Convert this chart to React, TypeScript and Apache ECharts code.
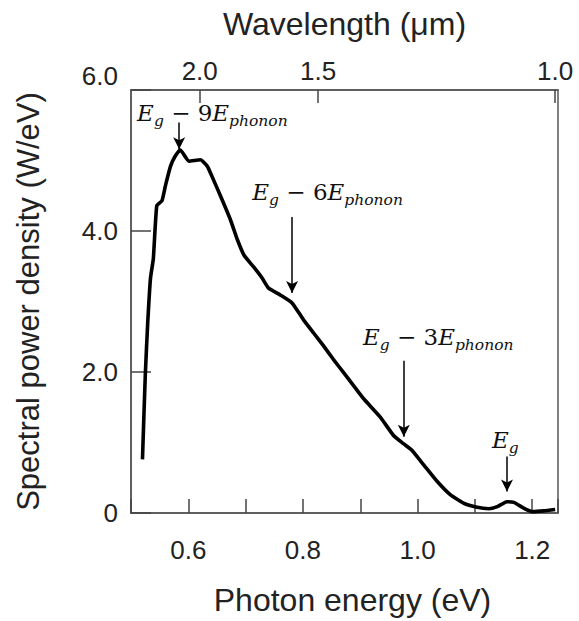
import React, { useEffect, useRef } from "react";
import * as echarts from "echarts";

// Photon energy (eV) and spectral power density (W/eV)
const energy = [
  0.52, 0.525, 0.529, 0.534, 0.539, 0.545, 0.554, 0.56, 0.569, 0.577, 0.586,
  0.601, 0.621, 0.633, 0.641, 0.656, 0.673, 0.685, 0.697, 0.714, 0.729, 0.74,
  0.761, 0.781, 0.801, 0.819, 0.836, 0.853, 0.871, 0.889, 0.906, 0.935, 0.958,
  0.976, 0.99, 1.011, 1.034, 1.057, 1.08, 1.104, 1.124, 1.139, 1.156, 1.168,
  1.185, 1.2, 1.22, 1.24,
];
const power = [
  0.76, 1.97, 2.67, 3.33, 3.61, 4.36, 4.43, 4.64, 4.92, 5.06, 5.15, 4.99, 5.01,
  4.92, 4.78, 4.5, 4.17, 3.89, 3.66, 3.49, 3.33, 3.19, 3.09, 2.98, 2.74, 2.55,
  2.37, 2.18, 1.99, 1.8, 1.62, 1.36, 1.1, 0.98, 0.89, 0.68, 0.45, 0.26, 0.14,
  0.08, 0.06, 0.09, 0.16, 0.15, 0.07, 0.02, 0.03, 0.05,
];

// Top axis: wavelength tick labels (µm), converted with E = hc / λ
const wavelengthTicks = [2.0, 1.5, 1.0];
const HC = 1.2398;

// Annotations (phonon replicas)
const annotationMultiples = ["9", "6", "3", ""];
const arrowX = [0.584, 0.781, 0.976, 1.156];
const arrowFrom = [5.54, 4.2, 2.16, 0.8];
const arrowTo = [5.16, 3.12, 1.08, 0.305];
const labelX = [0.642, 0.843, 1.036, 1.153];
const labelY = [5.68, 4.55, 2.49, 1.03];

const SANS = "'Liberation Sans', Arial, sans-serif";
const MATH = "'DejaVu Serif', 'Liberation Serif', serif";

export default function App() {
  const ref = useRef<HTMLDivElement>(null);

  useEffect(() => {
    if (!ref.current) return;
    const chart = echarts.init(ref.current, undefined, { renderer: "svg" });

    const xMin = 0.5;
    const xMax = 1.245;
    const topVals = wavelengthTicks.map((w) => HC / w);

    const rich = {
      e: { fontFamily: MATH, fontStyle: "italic", fontSize: 23, color: "#111", lineHeight: 32 },
      s: { fontFamily: MATH, fontStyle: "italic", fontSize: 15.5, color: "#111", lineHeight: 18, verticalAlign: "bottom" },
      m: { fontFamily: MATH, fontSize: 23, color: "#111", lineHeight: 32 },
    };

    const option = {
      animation: false,
      grid: {
        left: 131,
        right: 21,
        top: 90,
        bottom: 104,
        show: true,
        borderColor: "#555",
        borderWidth: 1.5,
        backgroundColor: "transparent",
      },
      xAxis: [
        {
          type: "value",
          position: "bottom",
          min: xMin,
          max: xMax,
          interval: 0.1,
          axisLine: { lineStyle: { color: "#555", width: 1.5 } },
          axisTick: { inside: true, length: 14, lineStyle: { color: "#444", width: 1.5 } },
          splitLine: { show: false },
          axisLabel: {
            margin: 24,
            fontSize: 26,
            color: "#222",
            fontFamily: SANS,
            formatter: (v: number) => {
              const r = Math.round(v * 10);
              if (Math.abs(v * 10 - r) > 1e-6) return "";
              if (r % 2 === 0 && r >= 6) return (r / 10).toFixed(1);
              return "";
            },
          },
          name: "Photon energy (eV)",
          nameLocation: "middle",
          nameGap: 71,
          nameTextStyle: { fontSize: 32, color: "#222", fontFamily: SANS, padding: [0, 0, 0, 16] },
        },
        {
          type: "value",
          position: "top",
          min: xMin,
          max: xMax,
          axisLine: { lineStyle: { color: "#555", width: 1.5 } },
          axisTick: {
            inside: true,
            length: 13,
            customValues: topVals,
            lineStyle: { color: "#444", width: 1.5 },
          },
          splitLine: { show: false },
          axisLabel: {
            customValues: topVals,
            margin: 6,
            fontSize: 26,
            color: "#222",
            fontFamily: SANS,
            formatter: (v: number) => (HC / v).toFixed(1),
          },
          name: "Wavelength (μm)",
          nameLocation: "middle",
          nameGap: 50,
          nameTextStyle: { fontSize: 32, color: "#222", fontFamily: SANS },
        },
      ],
      yAxis: {
        type: "value",
        min: 0,
        max: 6,
        interval: 2,
        axisLine: { lineStyle: { color: "#555", width: 1.5 } },
        axisTick: { inside: true, length: 20, lineStyle: { color: "#444", width: 1.5 } },
        splitLine: { show: false },
        axisLabel: {
          margin: 13,
          fontSize: 26,
          color: "#222",
          fontFamily: SANS,
          formatter: (v: number) => (v === 0 ? "0" : v === 6 ? "{up|6.0}" : v.toFixed(1)),
          rich: { up: { fontSize: 26, color: "#222", fontFamily: SANS, padding: [0, 0, 28, 0] } },
        },
        name: "Spectral power density (W/eV)",
        nameLocation: "middle",
        nameGap: 87,
        nameTextStyle: { fontSize: 31, color: "#222", fontFamily: SANS },
      },
      series: [
        {
          type: "line",
          data: energy.map((e, i) => [e, power[i]]),
          showSymbol: false,
          smooth: 0.15,
          lineStyle: { color: "#000", width: 3.6 },
          silent: true,
          markLine: {
            silent: true,
            symbol: ["none", "arrow"],
            symbolSize: [9, 12],
            label: { show: false },
            lineStyle: { color: "#000", width: 1.5, type: "solid" },
            data: arrowX.map((x, i) => [
              { coord: [x, arrowFrom[i]] },
              { coord: [x, arrowTo[i]] },
            ]),
          },
          markPoint: {
            silent: true,
            symbol: "rect",
            symbolSize: 0,
            itemStyle: { color: "transparent" },
            data: labelX.map((x, i) => ({
              coord: [x, labelY[i]],
              label: {
                show: true,
                position: "inside",
                align: "center",
                verticalAlign: "middle",
                formatter: annotationMultiples[i]
                  ? `{e|E}{s|g}{m| − ${annotationMultiples[i]}}{e|E}{s|phonon}`
                  : `{e|E}{s|g}`,
                rich,
              },
            })),
          },
        },
      ],
    };

    chart.setOption(option as any);
    return () => chart.dispose();
  }, []);

  return (
    <div
      ref={ref}
      style={{ position: "absolute", left: 0, top: 0, width: 579, height: 621, background: "#fff" }}
    />
  );
}
